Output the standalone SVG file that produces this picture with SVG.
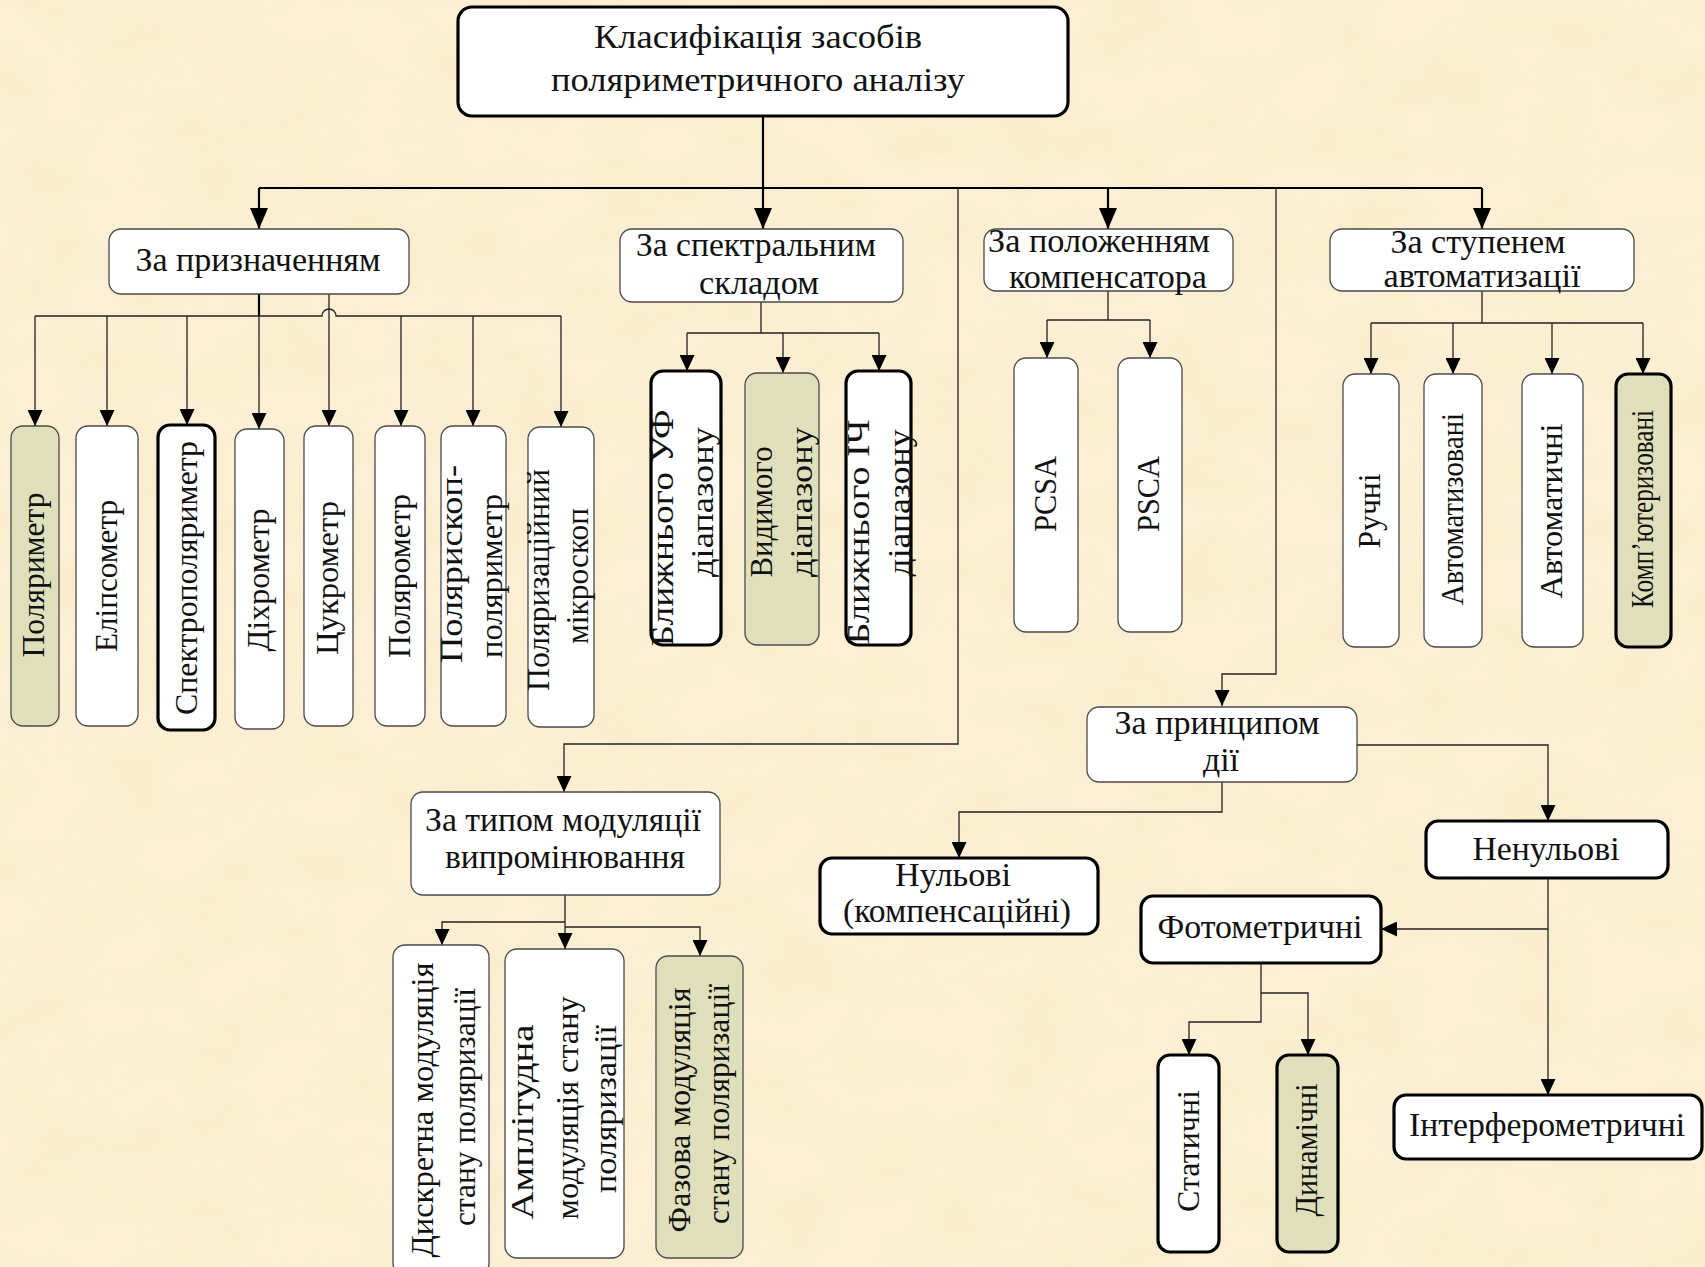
<svg xmlns="http://www.w3.org/2000/svg" width="1705" height="1267" viewBox="0 0 1705 1267">
<style>
text{font-family:"Liberation Serif","Times New Roman",serif;fill:#111;}
.h{font-size:33px;text-anchor:middle;}
.v{font-size:32px;text-anchor:middle;}
.bx{fill:#fff;stroke:#4a4a4a;stroke-width:1.3;}
.bk{fill:#fff;stroke:#000;stroke-width:3.2;}
.g{fill:#dfe0bb;}
.c{fill:none;stroke:#222;stroke-width:1.3;}
.c2{fill:none;stroke:#000;stroke-width:2.2;}
</style>
<defs>
<filter id="paper" x="0" y="0" width="100%" height="100%">
<feTurbulence type="fractalNoise" baseFrequency="0.012 0.018" numOctaves="4" seed="7"/>
<feColorMatrix type="matrix" values="0 0 0 0 0.93 0 0 0 0 0.83 0 0 0 0 0.56 0 0 0 1.6 -0.55"/>
</filter>
<marker id="a" markerUnits="userSpaceOnUse" markerWidth="16" markerHeight="15" viewBox="0 0 16 15" refX="16" refY="7.5" orient="auto"><path d="M0,0 L16,7.5 L0,15 z" fill="#000"/></marker>
<marker id="A" markerUnits="userSpaceOnUse" markerWidth="21" markerHeight="18" viewBox="0 0 21 18" refX="21" refY="9" orient="auto"><path d="M0,0 L21,9 L0,18 z" fill="#000"/></marker>
</defs>
<rect width="1705" height="1267" fill="#fcefd4"/>
<rect width="1705" height="1267" filter="url(#paper)" opacity="0.55"/>

<g id="connectors">
<path class="c2" d="M763,116 V229" marker-end="url(#A)"/>
<path class="c2" d="M259,188 H1482"/>
<path class="c2" d="M259,188 V229" marker-end="url(#A)"/>
<path class="c2" d="M1108,188 V229" marker-end="url(#A)"/>
<path class="c2" d="M1482,188 V229" marker-end="url(#A)"/>
<path class="c" d="M958,188 V744 H564 V792" marker-end="url(#a)"/>
<path class="c" d="M1276,188 V674 H1222 V706" marker-end="url(#a)"/>

<path class="c2" d="M259,294 V316"/>
<path class="c" d="M35,316 H322 A7,7 0 0 1 336,316 H561"/>
<path class="c" d="M35,316 V426" marker-end="url(#a)"/>
<path class="c" d="M107,316 V426" marker-end="url(#a)"/>
<path class="c" d="M187,316 V425" marker-end="url(#a)"/>
<path class="c" d="M259,316 V429" marker-end="url(#a)"/>
<path class="c" d="M329,294 V426" marker-end="url(#a)"/>
<path class="c" d="M401,316 V426" marker-end="url(#a)"/>
<path class="c" d="M473,316 V426" marker-end="url(#a)"/>
<path class="c" d="M561,316 V427" marker-end="url(#a)"/>

<path class="c" d="M761,302 V333 M687,333 H879"/>
<path class="c" d="M687,333 V371" marker-end="url(#a)"/>
<path class="c" d="M783,333 V373" marker-end="url(#a)"/>
<path class="c" d="M879,333 V371" marker-end="url(#a)"/>

<path class="c" d="M1108,291 V320 M1047,320 H1150"/>
<path class="c" d="M1047,320 V358" marker-end="url(#a)"/>
<path class="c" d="M1150,320 V358" marker-end="url(#a)"/>

<path class="c" d="M1482,291 V323 M1371,323 H1643"/>
<path class="c" d="M1371,323 V374" marker-end="url(#a)"/>
<path class="c" d="M1453,323 V374" marker-end="url(#a)"/>
<path class="c" d="M1552,323 V374" marker-end="url(#a)"/>
<path class="c" d="M1643,323 V374" marker-end="url(#a)"/>

<path class="c" d="M565,895 V949" marker-end="url(#a)"/>
<path class="c" d="M565,922 H442 V945" marker-end="url(#a)"/>
<path class="c" d="M565,927 H700 V956" marker-end="url(#a)"/>

<path class="c" d="M1357,745 H1548 V821" marker-end="url(#a)"/>
<path class="c" d="M1222,782 V812 H959 V858" marker-end="url(#a)"/>
<path class="c" d="M1548,878 V1095" marker-end="url(#a)"/>
<path class="c" d="M1548,929 H1381" marker-end="url(#a)"/>
<path class="c" d="M1261,963 V1022 H1189 V1055" marker-end="url(#a)"/>
<path class="c" d="M1261,993 H1308 V1055" marker-end="url(#a)"/>
</g>

<g id="root"><rect class="bk" x="458" y="7" width="610" height="109" rx="14"/>
<text class="h" x="758" y="48" font-size="35" textLength="328" lengthAdjust="spacingAndGlyphs">Класифікація засобів</text>
<text class="h" x="758" y="91" font-size="35" textLength="414" lengthAdjust="spacingAndGlyphs">поляриметричного аналізу</text></g>

<g id="n-pryznach"><rect class="bx" x="109" y="229" width="300" height="65" rx="12"/>
<text class="h" x="258" y="271" textLength="245" lengthAdjust="spacingAndGlyphs">За призначенням</text></g>
<g id="n-spektr"><rect class="bx" x="620" y="229" width="283" height="73" rx="12"/>
<text class="h" x="756" y="256" textLength="240" lengthAdjust="spacingAndGlyphs">За спектральним</text>
<text class="h" x="759" y="294" textLength="120" lengthAdjust="spacingAndGlyphs">складом</text></g>
<g id="n-polozh"><rect class="bx" x="984" y="229" width="249" height="62" rx="12"/>
<text class="h" x="1099" y="252" textLength="222" lengthAdjust="spacingAndGlyphs">За положенням</text>
<text class="h" x="1108" y="288" textLength="198" lengthAdjust="spacingAndGlyphs">компенсатора</text></g>
<g id="n-stupen"><rect class="bx" x="1330" y="229" width="304" height="62" rx="12"/>
<text class="h" x="1478" y="253" textLength="175" lengthAdjust="spacingAndGlyphs">За ступенем</text>
<text class="h" x="1482" y="287" textLength="197" lengthAdjust="spacingAndGlyphs">автоматизації</text></g>
<g id="n-modul"><rect class="bx" x="411" y="792" width="309" height="103" rx="12"/>
<text class="h" x="563" y="831" textLength="276" lengthAdjust="spacingAndGlyphs">За типом модуляції</text>
<text class="h" x="565" y="868" textLength="240" lengthAdjust="spacingAndGlyphs">випромінювання</text></g>
<g id="n-pryntsyp"><rect class="bx" x="1087" y="707" width="270" height="75" rx="12"/>
<text class="h" x="1217" y="734" textLength="205" lengthAdjust="spacingAndGlyphs">За принципом</text>
<text class="h" x="1221" y="771" textLength="36" lengthAdjust="spacingAndGlyphs">дії</text></g>

<g id="n-nulovi"><rect class="bk" x="820" y="858" width="278" height="76" rx="12"/>
<text class="h" x="953" y="886" textLength="116" lengthAdjust="spacingAndGlyphs">Нульові</text>
<text class="h" x="957" y="922" textLength="228" lengthAdjust="spacingAndGlyphs">(компенсаційні)</text></g>
<g id="n-nenulovi"><rect class="bk" x="1426" y="821" width="242" height="57" rx="12"/>
<text class="h" x="1546" y="860" textLength="147" lengthAdjust="spacingAndGlyphs">Ненульові</text></g>
<g id="n-foto"><rect class="bk" x="1141" y="896" width="240" height="67" rx="12"/>
<text class="h" x="1260" y="938" textLength="205" lengthAdjust="spacingAndGlyphs">Фотометричні</text></g>
<g id="n-interf"><rect class="bk" x="1394" y="1095" width="308" height="64" rx="12"/>
<text class="h" x="1547" y="1136" textLength="276" lengthAdjust="spacingAndGlyphs">Інтерферометричні</text></g>
<g id="n-static"><rect class="bk" x="1158" y="1055" width="61" height="197" rx="12"/>
<text class="v" transform="translate(1199,1151) rotate(-90)" textLength="122" lengthAdjust="spacingAndGlyphs">Статичні</text></g>
<g id="n-dynam"><rect class="bk g" x="1277" y="1055" width="61" height="197" rx="12"/>
<text class="v" transform="translate(1317,1150) rotate(-90)" textLength="133" lengthAdjust="spacingAndGlyphs">Динамічні</text></g>

<g id="n-polyarymetr"><rect class="bx g" x="11" y="426" width="48" height="300" rx="12"/>
<text class="v" transform="translate(44,575) rotate(-90)" textLength="165" lengthAdjust="spacingAndGlyphs">Поляриметр</text></g>
<g id="n-elipsometr"><rect class="bx" x="76" y="426" width="62" height="300" rx="12"/>
<text class="v" transform="translate(117,576) rotate(-90)" textLength="152" lengthAdjust="spacingAndGlyphs">Еліпсометр</text></g>
<g id="n-spektropol"><rect class="bk" x="158" y="425" width="57" height="305" rx="12"/>
<text class="v" transform="translate(197,578) rotate(-90)" textLength="274" lengthAdjust="spacingAndGlyphs">Спектрополяриметр</text></g>
<g id="n-dikhrometr"><rect class="bx" x="235" y="429" width="49" height="300" rx="12"/>
<text class="v" transform="translate(269,580) rotate(-90)" textLength="143" lengthAdjust="spacingAndGlyphs">Діхрометр</text></g>
<g id="n-tsukrometr"><rect class="bx" x="304" y="426" width="49" height="300" rx="12"/>
<text class="v" transform="translate(338,578) rotate(-90)" textLength="154" lengthAdjust="spacingAndGlyphs">Цукрометр</text></g>
<g id="n-polyarometr"><rect class="bx" x="375" y="426" width="50" height="300" rx="12"/>
<text class="v" transform="translate(410,576) rotate(-90)" textLength="164" lengthAdjust="spacingAndGlyphs">Полярометр</text></g>
<g id="n-polyaryskop"><rect class="bx" x="441" y="426" width="65" height="300" rx="12"/>
<text class="v" transform="translate(462,564) rotate(-90)" textLength="198" lengthAdjust="spacingAndGlyphs">Полярископ-</text>
<text class="v" transform="translate(502,576) rotate(-90)" textLength="164" lengthAdjust="spacingAndGlyphs">поляриметр</text></g>
<g id="n-mikroskop"><rect class="bx" x="528" y="427" width="66" height="300" rx="12"/>
<text class="v" transform="translate(549,580) rotate(-90)" textLength="222" lengthAdjust="spacingAndGlyphs">Поляризаційний</text>
<text class="v" transform="translate(588,576) rotate(-90)" textLength="136" lengthAdjust="spacingAndGlyphs">мікроскоп</text></g>

<g id="n-uf"><rect class="bk" x="651" y="371" width="70" height="274" rx="12"/>
<text class="v" transform="translate(673,528) rotate(-90)" textLength="237" lengthAdjust="spacingAndGlyphs">Ближнього УФ</text>
<text class="v" transform="translate(713,502) rotate(-90)" textLength="150" lengthAdjust="spacingAndGlyphs">діапазону</text></g>
<g id="n-vydymyi"><rect class="bx g" x="745" y="373" width="74" height="272" rx="12"/>
<text class="v" transform="translate(772,512) rotate(-90)" textLength="131" lengthAdjust="spacingAndGlyphs">Видимого</text>
<text class="v" transform="translate(812,502) rotate(-90)" textLength="150" lengthAdjust="spacingAndGlyphs">діапазону</text></g>
<g id="n-ich"><rect class="bk" x="846" y="371" width="65" height="274" rx="12"/>
<text class="v" transform="translate(869,532) rotate(-90)" textLength="225" lengthAdjust="spacingAndGlyphs">Ближнього ІЧ</text>
<text class="v" transform="translate(910,503) rotate(-90)" textLength="147" lengthAdjust="spacingAndGlyphs">діапазону</text></g>

<g id="n-pcsa"><rect class="bx" x="1014" y="358" width="64" height="274" rx="12"/>
<text class="v" transform="translate(1056,494) rotate(-90)" textLength="76" lengthAdjust="spacingAndGlyphs">PCSA</text></g>
<g id="n-psca"><rect class="bx" x="1118" y="358" width="64" height="274" rx="12"/>
<text class="v" transform="translate(1159,494) rotate(-90)" textLength="76" lengthAdjust="spacingAndGlyphs">PSCA</text></g>

<g id="n-ruchni"><rect class="bx" x="1343" y="374" width="56" height="273" rx="12"/>
<text class="v" transform="translate(1380,511) rotate(-90)" textLength="75" lengthAdjust="spacingAndGlyphs">Ручні</text></g>
<g id="n-avtomatyzovani"><rect class="bx" x="1424" y="374" width="58" height="273" rx="12"/>
<text class="v" transform="translate(1463,509) rotate(-90)" textLength="192" lengthAdjust="spacingAndGlyphs">Автоматизовані</text></g>
<g id="n-avtomatychni"><rect class="bx" x="1522" y="374" width="61" height="273" rx="12"/>
<text class="v" transform="translate(1562,511) rotate(-90)" textLength="175" lengthAdjust="spacingAndGlyphs">Автоматичні</text></g>
<g id="n-kompyuter"><rect class="bk g" x="1616" y="374" width="55" height="273" rx="12"/>
<text class="v" transform="translate(1653,509) rotate(-90)" textLength="198" lengthAdjust="spacingAndGlyphs">Комп’ютеризовані</text></g>

<g id="n-dyskretna"><rect class="bx" x="393" y="945" width="96" height="330" rx="12"/>
<text class="v" transform="translate(433,1110) rotate(-90)" textLength="295" lengthAdjust="spacingAndGlyphs">Дискретна модуляція</text>
<text class="v" transform="translate(475,1107) rotate(-90)" textLength="238" lengthAdjust="spacingAndGlyphs">стану поляризації</text></g>
<g id="n-amplitudna"><rect class="bx" x="505" y="949" width="119" height="309" rx="12"/>
<text class="v" transform="translate(533,1122) rotate(-90)" textLength="195" lengthAdjust="spacingAndGlyphs">Амплітудна</text>
<text class="v" transform="translate(578,1108) rotate(-90)" textLength="223" lengthAdjust="spacingAndGlyphs">модуляція стану</text>
<text class="v" transform="translate(616,1109) rotate(-90)" textLength="168" lengthAdjust="spacingAndGlyphs">поляризації</text></g>
<g id="n-fazova"><rect class="bx g" x="656" y="956" width="87" height="302" rx="12"/>
<text class="v" transform="translate(690,1110) rotate(-90)" textLength="245" lengthAdjust="spacingAndGlyphs">Фазова модуляція</text>
<text class="v" transform="translate(729,1104) rotate(-90)" textLength="240" lengthAdjust="spacingAndGlyphs">стану поляризації</text></g>
</svg>
